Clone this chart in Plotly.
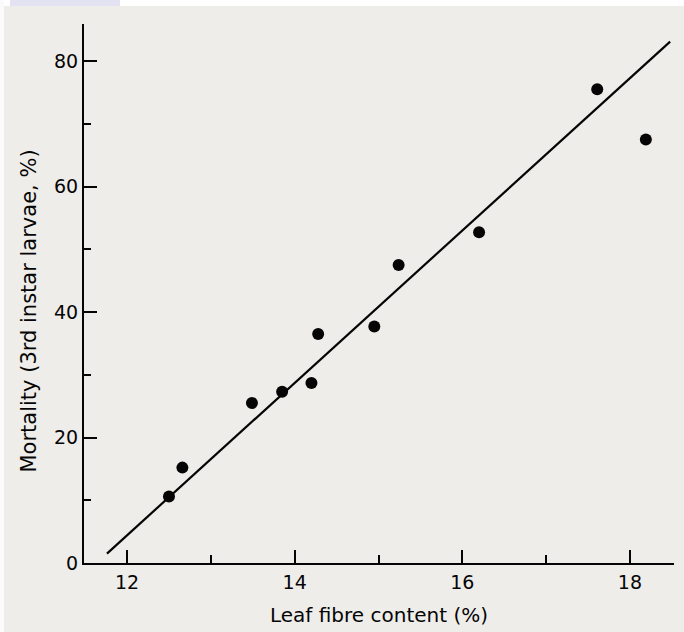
import plotly.graph_objects as go

# Data
fibre_content = [12.50, 12.66, 13.49, 13.85, 14.20, 14.28, 14.95, 15.24, 16.20, 17.61, 18.19]
mortality = [10.6, 15.2, 25.5, 27.3, 28.7, 36.5, 37.7, 47.5, 52.7, 75.5, 67.5]

# Regression line end points
fit_x = [11.76, 18.48]
fit_y = [1.5, 83.1]

x_ticks = [12, 14, 16, 18]
y_ticks = [0, 20, 40, 60, 80]

x_title = "Leaf fibre content (%)"
y_title = "Mortality (3rd instar larvae, %)"

ink = "#050505"
paper = "#efede9"
font_family = "DejaVu Sans"

fig = go.Figure()
fig.add_trace(go.Scatter(x=fit_x, y=fit_y, mode="lines",
                         line=dict(color=ink, width=2.2), showlegend=False,
                         hoverinfo="skip"))
fig.add_trace(go.Scatter(x=fibre_content, y=mortality, mode="markers",
                         marker=dict(color=ink, size=12, line=dict(width=0)),
                         showlegend=False))

L, R, T, B = 84, 10, 24, 69
W, H = 684, 632
pw, ph = W - L - R, H - T - B

fig.update_layout(
    width=W, height=H,
    margin=dict(l=L, r=R, t=T, b=B, autoexpand=False),
    paper_bgcolor=paper, plot_bgcolor=paper,
    font=dict(family=font_family, size=19, color=ink),
    xaxis=dict(
        range=[11.486, 18.526], tickvals=x_ticks, ticktext=[str(v) for v in x_ticks],
        ticks="inside", ticklen=13, tickwidth=2, tickcolor=ink,
        showline=True, linecolor=ink, linewidth=2, showgrid=False, zeroline=False,
        minor=dict(dtick=1, tick0=0, ticks="inside", ticklen=8, tickwidth=2, tickcolor=ink),
        ticklabelstandoff=1, automargin=False,
        title=dict(text=x_title, standoff=16,
                   font=dict(size=20, family=font_family, color=ink)),
    ),
    yaxis=dict(
        range=[0, 85.9], tickvals=y_ticks, ticktext=[str(v) for v in y_ticks],
        ticks="inside", ticklen=13, tickwidth=2, tickcolor=ink,
        showline=True, linecolor=ink, linewidth=2, showgrid=False, zeroline=False,
        minor=dict(dtick=10, tick0=0, ticks="inside", ticklen=7, tickwidth=2, tickcolor=ink),
        automargin=False,
    ),
    annotations=[
        dict(text=y_title, textangle=-90, xref="paper", yref="paper",
             x=(28 - L) / pw, y=1 - (311.5 - T) / ph, xanchor="center", yanchor="middle",
             showarrow=False, font=dict(size=21, family=font_family, color=ink)),
    ],
    shapes=[
        # white scan strip at top
        dict(type="rect", xref="paper", yref="paper", layer="above",
             x0=-L / pw, x1=1 + R / pw, y0=1 + (T - 6) / ph, y1=1 + T / ph,
             fillcolor="#ffffff", line=dict(width=0)),
        dict(type="rect", xref="paper", yref="paper", layer="above",
             x0=(10 - L) / pw, x1=(120 - L) / pw, y0=1 + (T - 6) / ph, y1=1 + T / ph,
             fillcolor="#e2e2f2", line=dict(width=0)),
        # white scan strip at left
        dict(type="rect", xref="paper", yref="paper", layer="above",
             x0=-L / pw, x1=(4 - L) / pw, y0=-B / ph, y1=1 + T / ph,
             fillcolor="#fbfbfb", line=dict(width=0)),
    ],
)

fig.write_html("out.html", config={"displayModeBar": False},
               post_script="document.body.style.margin='0';document.body.style.padding='0';")
